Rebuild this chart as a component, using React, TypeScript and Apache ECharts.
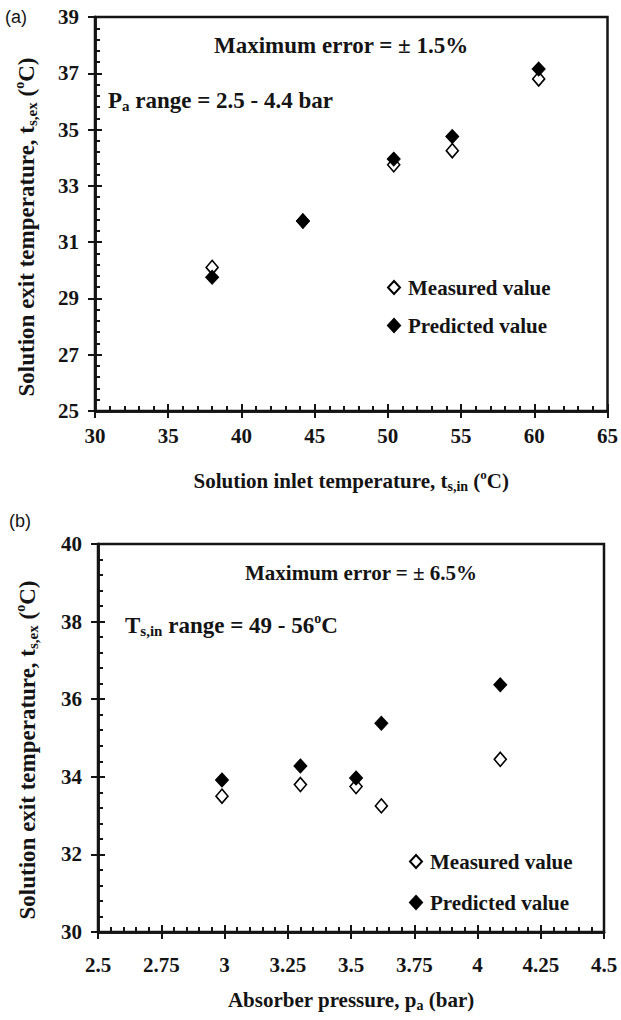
import React, { useEffect, useRef } from "react";
import * as echarts from "echarts";

// ---- Data ----
// Panel (a): solution exit temperature vs solution inlet temperature
const inletTemp = [38.0, 44.2, 50.4, 54.4, 60.3];
const measuredA = [30.1, 31.75, 33.75, 34.25, 36.8];
const predictedA = [29.75, 31.75, 33.95, 34.75, 37.15];

// Panel (b): solution exit temperature vs absorber pressure
const pressure = [2.99, 3.3, 3.52, 3.62, 4.09];
const measuredB = [33.5, 33.8, 33.75, 33.25, 34.45];
const predictedB = [33.92, 34.28, 33.97, 35.38, 36.37];

// Tick labels
const xTicksA = ["30", "35", "40", "45", "50", "55", "60", "65"];
const yTicksA = ["25", "27", "29", "31", "33", "35", "37", "39"];
const xTicksB = ["2.5", "2.75", "3", "3.25", "3.5", "3.75", "4", "4.25", "4.5"];
const yTicksB = ["30", "32", "34", "36", "38", "40"];

const seriesNames = ["Measured value", "Predicted value"];

const SERIF = "Liberation Serif, Times New Roman, serif";
const SANS = "Liberation Sans, Arial, sans-serif";
const INK = "#141414";

function rich(size: number) {
  return {
    m: { fontFamily: SERIF, fontWeight: "bold", fontSize: size, lineHeight: size + 4, color: INK },
    sub: { fontFamily: SERIF, fontWeight: "bold", fontSize: Math.round(size * 0.65), lineHeight: Math.round(size * 0.6), verticalAlign: "bottom", color: INK },
    sup: { fontFamily: SERIF, fontWeight: "bold", fontSize: Math.round(size * 0.6), lineHeight: Math.round(size * 0.6), verticalAlign: "top", color: INK },
  };
}

const rangeOf = (a: string[]) => [Number(a[0]), Number(a[a.length - 1])];
const stepOf = (a: string[]) => Number(a[1]) - Number(a[0]);

function mainAxis(gridIndex: number, ticks: string[], margin: number, name: string, nameGap: number, isX: boolean, nameSize: number) {
  const r = rangeOf(ticks);
  return {
    type: "value",
    gridIndex,
    position: isX ? "bottom" : "left",
    min: r[0],
    max: r[1],
    interval: stepOf(ticks),
    axisLine: { show: true, onZero: false, lineStyle: { color: INK, width: 2.5 } },
    axisTick: { show: true, inside: true, length: 7, lineStyle: { color: INK, width: 2 } },
    minorTick: { show: true, splitNumber: 5, length: 5, lineStyle: { color: INK, width: 2 } },
    splitLine: { show: false },
    minorSplitLine: { show: false },
    axisLabel: {
      show: true,
      margin,
      formatter: (v: number) => {
        const hit = ticks.find((t) => Math.abs(Number(t) - v) < 1e-9);
        return hit !== undefined ? hit : String(v);
      },
      fontFamily: SERIF,
      fontWeight: "bold",
      fontSize: 21,
      color: INK,
    },
    name,
    nameLocation: "middle",
    nameGap,
    nameTextStyle: { fontFamily: SERIF, fontWeight: "bold", fontSize: nameSize, color: INK, rich: rich(nameSize) },
  };
}

function overlayAxis(gridIndex: number, ticks: string[], isX: boolean) {
  const r = rangeOf(ticks);
  return {
    type: "value",
    gridIndex,
    position: isX ? "bottom" : "left",
    offset: 0,
    min: r[0],
    max: r[1],
    interval: stepOf(ticks),
    axisLine: { show: true, onZero: false, lineStyle: { color: INK, width: 2.5 } },
    axisTick: { show: true, inside: false, length: 7, lineStyle: { color: INK, width: 2 } },
    minorTick: { show: false },
    splitLine: { show: false },
    axisLabel: { show: false },
  };
}

function pairs(xs: number[], ys: number[]) {
  return xs.map((x, i) => [x, ys[i]]);
}

const measuredStyle = { color: "#ffffff", borderColor: "#000000", borderWidth: 1.6, opacity: 1 };
const predictedStyle = { color: "#000000", borderColor: "#000000", borderWidth: 1, opacity: 1 };

function legendAt(left: number, top: number, itemGap: number, size: number) {
  return {
    show: true,
    orient: "vertical",
    left,
    top,
    itemGap,
    itemWidth: 12,
    itemHeight: 13,
    selectedMode: false,
    data: seriesNames,
    textStyle: { fontFamily: SERIF, fontWeight: "bold", fontSize: size, color: INK, padding: [0, 0, 0, 3] },
  };
}

function textEl(x: number, y: number, text: string, size: number, align = "left", rotation = 0) {
  return {
    type: "text",
    x,
    y,
    rotation,
    silent: true,
    style: {
      text,
      fontFamily: SERIF,
      fontWeight: "bold",
      fontSize: size,
      fill: INK,
      align,
      verticalAlign: "middle",
      rich: rich(size),
    },
  };
}

const yTitle = "{m|Solution exit temperature, t}{sub|s,ex}{m| (}{sup|o}{m|C)}";

export default function App() {
  const ref = useRef<HTMLDivElement>(null);

  useEffect(() => {
    document.body.style.margin = "0";
    if (!ref.current) return;
    const chart = echarts.init(ref.current, null, { renderer: "svg" });

    const option = {
      animation: false,
      backgroundColor: "#ffffff",
      grid: [
        { left: 95, top: 17, width: 513, height: 394, show: true, borderColor: INK, borderWidth: 2.5, backgroundColor: "transparent" },
        { left: 98, top: 544, width: 506, height: 388, show: true, borderColor: INK, borderWidth: 2.5, backgroundColor: "transparent" },
      ],
      xAxis: [
        mainAxis(0, xTicksA, 14, "{m|Solution inlet temperature, t}{sub|s,in}{m| (}{sup|o}{m|C)}", 57, true, 21),
        overlayAxis(0, xTicksA, true),
        mainAxis(1, xTicksB, 22, "{m|Absorber pressure, p}{sub|a}{m| (bar)}", 55, true, 21),
        overlayAxis(1, xTicksB, true),
      ],
      yAxis: [
        mainAxis(0, yTicksA, 16, "", 54, false, 23),
        overlayAxis(0, yTicksA, false),
        mainAxis(1, yTicksB, 16, "", 57, false, 23),
        overlayAxis(1, yTicksB, false),
      ],
      legend: [legendAt(382, 272, 17, 21), legendAt(404, 846, 20, 21)],
      series: [
        { name: seriesNames[0], type: "scatter", xAxisIndex: 0, yAxisIndex: 0, symbol: "diamond", symbolSize: [12, 14], itemStyle: measuredStyle, z: 2, data: pairs(inletTemp, measuredA) },
        { name: seriesNames[1], type: "scatter", xAxisIndex: 0, yAxisIndex: 0, symbol: "diamond", symbolSize: [13, 14], itemStyle: predictedStyle, z: 3, data: pairs(inletTemp, predictedA) },
        { name: seriesNames[0], type: "scatter", xAxisIndex: 2, yAxisIndex: 2, symbol: "diamond", symbolSize: [12, 14], itemStyle: measuredStyle, z: 2, data: pairs(pressure, measuredB) },
        { name: seriesNames[1], type: "scatter", xAxisIndex: 2, yAxisIndex: 2, symbol: "diamond", symbolSize: [13, 14], itemStyle: predictedStyle, z: 3, data: pairs(pressure, predictedB) },
      ],
      graphic: [
        { type: "text", x: 5, y: 17, style: { text: "(a)", fontFamily: SANS, fontWeight: "normal", fontSize: 18, fill: INK, verticalAlign: "middle" } },
        { type: "text", x: 9, y: 521, style: { text: "(b)", fontFamily: SANS, fontWeight: "normal", fontSize: 18, fill: INK, verticalAlign: "middle" } },
        textEl(26, 227, yTitle, 23, "center", Math.PI / 2),
        textEl(27, 750, yTitle, 23, "center", Math.PI / 2),
        textEl(214, 45, "{m|Maximum error = ± 1.5%}", 23),
        textEl(108, 100, "{m|P}{sub|a}{m| range = 2.5 - 4.4 bar}", 23),
        textEl(245, 573, "{m|Maximum error = ± 6.5%}", 21),
        textEl(125, 625, "{m|T}{sub|s,in}{m| range = 49 - 56}{sup|o}{m|C}", 23),
      ],
    };

    chart.setOption(option as any);
    return () => {
      chart.dispose();
    };
  }, []);

  return <div ref={ref} style={{ width: 621, height: 1020 }} />;
}
